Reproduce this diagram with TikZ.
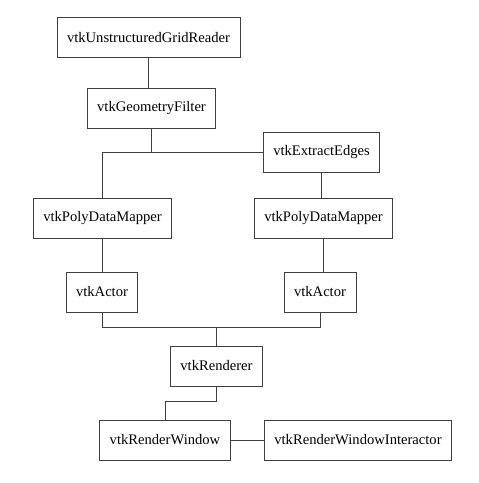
\documentclass[tikz,border=0pt]{standalone}
\usepackage{fontspec}
\setmainfont{Liberation Serif}
\usetikzlibrary{calc}
\pgfdeclarelayer{edgelayer}
\pgfdeclarelayer{nodelayer}
\pgfsetlayers{edgelayer,nodelayer,main}
\tikzstyle{vtk_box}=[rectangle,draw=black!75,fill=white,line width=0.9pt,minimum height=40pt,inner xsep=10pt,font=\fontsize{14.6}{16}\selectfont]
\tikzstyle{link}=[-,draw=black!75,line width=0.9pt]

\begin{document}
\begin{tikzpicture}[x=1pt,y=-1pt]
	\useasboundingbox (0, 0) rectangle (479, 483);
	\begin{pgfonlayer}{nodelayer}
		\node [style={vtk_box}] (0) at (148.5, 37.5) {vtkUnstructuredGridReader};
		\node [style={vtk_box}] (1) at (151.5, 108) {vtkGeometryFilter};
		\node [style={vtk_box}] (2) at (321.5, 152) {vtkExtractEdges};
		\node [style={vtk_box}] (3) at (102.5, 218.5) {vtkPolyDataMapper};
		\node [style={vtk_box}] (4) at (323.5, 218.5) {vtkPolyDataMapper};
		\node [style={vtk_box}] (5) at (102, 292) {vtkActor};
		\node [style={vtk_box}] (6) at (320, 292) {vtkActor};
		\node [style={vtk_box}] (7) at (216.5, 366) {vtkRenderer};
		\node [style={vtk_box}] (8) at (165, 440) {vtkRenderWindow};
		\node [style={vtk_box}] (9) at (358, 440) {vtkRenderWindowInteractor};
		\coordinate (10) at (216.5, 327.5);
		\coordinate (11) at (216.5, 401.5);
	\end{pgfonlayer}
	\begin{pgfonlayer}{edgelayer}
		\draw [style=link] (0.south) to (0.south |- 1.north);
		\draw [style=link] (1.south) to (1.south |- 2.west);
		\draw [style=link] (3.north) |- (2.west);
		\draw [style=link] (2.south) to (2.south |- 4.north);
		\draw [style=link] (3.south) to (3.south |- 5.north);
		\draw [style=link] (4.south) to (4.south |- 6.north);
		\draw [style=link] (5.south) |- (10) -| (6.south);
		\draw [style=link] (10) to (7.north);
		\draw [style=link] (7.south) to (11) -| (8.north);
		\draw [style=link] (8) to (9);
	\end{pgfonlayer}
\end{tikzpicture}
\end{document}
